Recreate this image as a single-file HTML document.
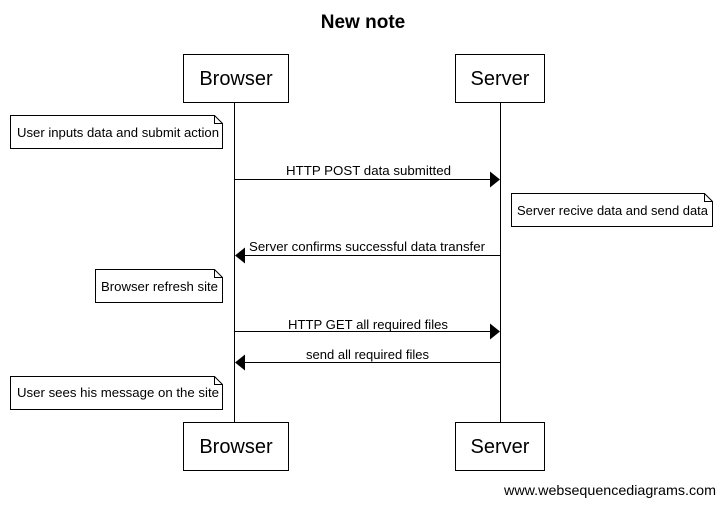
<!DOCTYPE html>
<html><head><style>body{margin:0;background:#fff}svg{display:block}text{font-family:"Liberation Sans",sans-serif;fill:#000}</style></head><body>
<svg width="724" height="506" xmlns="http://www.w3.org/2000/svg">
<text x="363" y="28" font-size="19" font-weight="bold" text-anchor="middle">New note</text>
<g stroke="#000" fill="#fff" stroke-width="1">
<line x1="234.5" y1="102" x2="234.5" y2="422"/>
<line x1="500.5" y1="102" x2="500.5" y2="422"/>
<rect x="183.5" y="54.5" width="105" height="48"/>
<rect x="455.5" y="54.5" width="89" height="48"/>
<rect x="183.5" y="422.5" width="105" height="48"/>
<rect x="455.5" y="422.5" width="89" height="48"/>
<path d="M10.5 115.5H214.5L222.5 123.5V148.5H10.5Z M214.5 115.5V123.5H222.5"/>
<path d="M511.5 193.5H704.5L712.5 201.5V226.5H511.5Z M704.5 193.5V201.5H712.5"/>
<path d="M95.5 269.5H214.5L222.5 277.5V302.5H95.5Z M214.5 269.5V277.5H222.5"/>
<path d="M10.5 376.5H214.5L222.5 384.5V409.5H10.5Z M214.5 376.5V384.5H222.5"/>
<line x1="234.5" y1="179.5" x2="492" y2="179.5"/>
<line x1="243" y1="255.5" x2="500.5" y2="255.5"/>
<line x1="234.5" y1="331.5" x2="492" y2="331.5"/>
<line x1="243" y1="362.5" x2="500.5" y2="362.5"/>
</g>
<g fill="#000">
<path d="M490 171.5L500 179.5L490 187.5Z"/>
<path d="M245 247.5L235 255.5L245 263.5Z"/>
<path d="M490 323.5L500 331.5L490 339.5Z"/>
<path d="M245 354.5L235 362.5L245 370.5Z"/>
</g>
<g font-size="20" text-anchor="middle">
<text x="236" y="85">Browser</text><text x="500" y="85">Server</text>
<text x="236" y="453">Browser</text><text x="500" y="453">Server</text>
</g>
<g font-size="13">
<text x="17" y="137" textLength="202" lengthAdjust="spacingAndGlyphs">User inputs data and submit action</text>
<text x="517" y="215" textLength="191" lengthAdjust="spacingAndGlyphs">Server recive data and send data</text>
<text x="101" y="291" textLength="117" lengthAdjust="spacingAndGlyphs">Browser refresh site</text>
<text x="17" y="397" textLength="202" lengthAdjust="spacingAndGlyphs">User sees his message on the site</text>
<text x="286" y="175" textLength="165" lengthAdjust="spacingAndGlyphs">HTTP POST data submitted</text>
<text x="249" y="251" textLength="236" lengthAdjust="spacingAndGlyphs">Server confirms successful data transfer</text>
<text x="288" y="329" textLength="160" lengthAdjust="spacingAndGlyphs">HTTP GET all required files</text>
<text x="306" y="359" textLength="123" lengthAdjust="spacingAndGlyphs">send all required files</text>
</g>
<text x="504" y="495" font-size="14" textLength="212" lengthAdjust="spacingAndGlyphs">www.websequencediagrams.com</text>
</svg>
</body></html>
